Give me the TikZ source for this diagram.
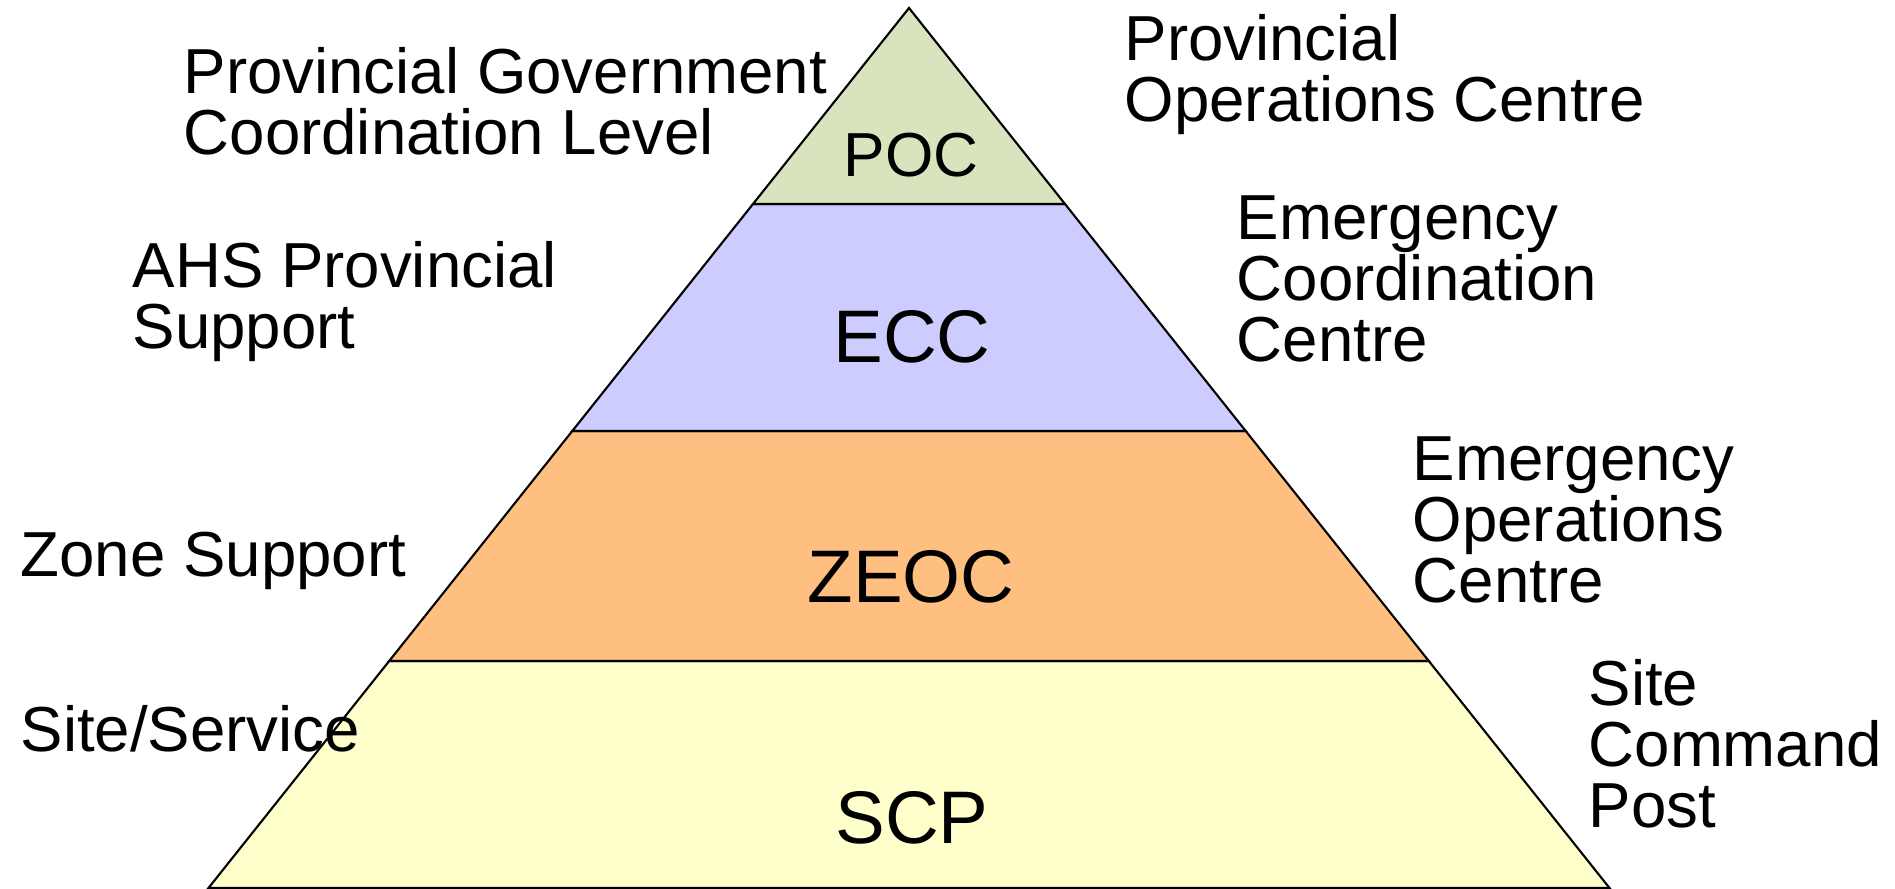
\documentclass[tikz,border=0pt]{standalone}
\usepackage{fontspec}
\setmainfont{Liberation Sans}
\definecolor{pocgreen}{HTML}{D7E4BD}
\definecolor{eccblue}{HTML}{CCCCFF}
\definecolor{zeocorange}{HTML}{FFBF80}
\definecolor{scpyellow}{HTML}{FFFFCC}
\tikzset{
  layer/.style={draw=black, line width=0.6pt, line join=miter},
  lbl/.style={inner sep=0pt, align=left, anchor=base west,
    font=\fontsize{18.1pt}{17.4pt}\selectfont},
  tag/.style={inner sep=0pt, anchor=base},
  tagsmall/.style={tag, font=\fontsize{17.7pt}{17.7pt}\selectfont},
  tagbig/.style={tag, font=\fontsize{21.2pt}{21.2pt}\selectfont},
}
\begin{document}
\begin{tikzpicture}
        \useasboundingbox (0,0) rectangle (18.950000,8.890000);
        
        % Drawing layer SCP
        \draw [layer, fill=scpyellow] (2.085000,0.010000) -- (16.095000,0.010000) -- (14.288000,2.280000) -- (3.892000,2.280000) -- cycle;%
        
        % Drawing layer ZEOC
        \draw [layer, fill=zeocorange] (3.892000,2.280000) -- (14.288000,2.280000) -- (12.457000,4.580000) -- (5.723000,4.580000) -- cycle;%
        
        % Drawing layer ECC
        \draw [layer, fill=eccblue] (5.723000,4.580000) -- (12.457000,4.580000) -- (10.650000,6.850000) -- (7.530000,6.850000) -- cycle;%
        
        % Drawing layer POC
        \draw [layer, fill=pocgreen] (7.530000,6.850000) -- (10.650000,6.850000) -- (9.090000,8.810000) -- cycle;%
        
        % Centre tags
        \node [tagsmall] (poc) at (9.110000,7.120000) {POC};%
        \node [tagbig] (ecc) at (9.120000,5.260000) {ECC};%
        \node [tagbig] (zeoc) at (9.110000,2.860000) {ZEOC};%
        \node [tagbig] (scp) at (9.120000,0.455000) {SCP};%
        
        % Labels on the left (anchored at the baseline of the last line)
        \node [lbl] (govLevel) at (1.830000,7.340000) {Provincial Government\\Coordination Level};%
        \node [lbl] (ahsSupport) at (1.320000,5.400000) {AHS Provincial\\Support};%
        \node [lbl] (zoneSupport) at (0.200000,3.120000) {Zone Support};%
        \node [lbl] (siteService) at (0.200000,1.370000) {Site/Service};%
        
        % Labels on the right
        \node [lbl] (pocName) at (11.240000,7.670000) {Provincial\\Operations Centre};%
        \node [lbl] (eccName) at (12.360000,5.270000) {Emergency\\Coordination\\Centre};%
        \node [lbl] (eocName) at (14.120000,2.860000) {Emergency\\Operations\\Centre};%
        \node [lbl] (scpName) at (15.880000,0.610000) {Site\\Command\\Post};%
\end{tikzpicture}
\end{document}
